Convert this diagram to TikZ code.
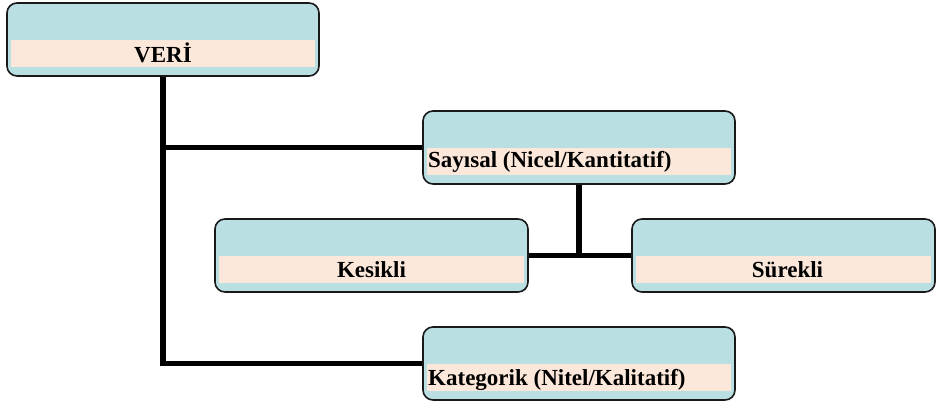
\documentclass[tikz,border=0pt]{standalone}
\usepackage{fontspec}
\setmainfont{Liberation Serif}
\definecolor{cyanbg}{HTML}{B9DFE3}
\definecolor{peachbg}{HTML}{FCE8DA}
\tikzset{
  box/.style={draw=black!90, line width=1.6pt, rounded corners=10pt, fill=cyanbg,
    minimum height=73pt, inner sep=0pt,
    path picture={\fill[peachbg, sharp corners] ([xshift=4pt,yshift=9pt]path picture bounding box.south west)
      rectangle ([xshift=-4pt,yshift=-37pt]path picture bounding box.north east);}},
  lbl/.style={font=\fontsize{23}{26}\selectfont\bfseries, inner sep=0pt},
  conn/.style={line width=5.5pt}
}
\begin{document}
\begin{tikzpicture}[x=1pt,y=-1pt]
\useasboundingbox (0,0) rectangle (936,403);
% boxes
\node[box, minimum width=312pt] (veri) at (163,39.5) {};
\node[box, minimum width=312pt] (say) at (579,147.5) {};
\node[box, minimum width=313pt] (kes) at (371.5,255.5) {};
\node[box, minimum width=303pt] (sur) at (783.5,255.5) {};
\node[box, minimum width=312pt] (kat) at (579,363.5) {};
% labels
\node[lbl, anchor=base] (veri-t) at (163,62.5) {VERİ};
\node[lbl, anchor=base west] (say-t) at (428,168) {Sayısal (Nicel/Kantitatif)};
\node[lbl, anchor=base] (kes-t) at (371.5,277) {Kesikli};
\node[lbl, anchor=base] (sur-t) at (787.5,277) {Sürekli};
\node[lbl, anchor=base west] (kat-t) at (428,385) {Kategorik (Nitel/Kalitatif)};
% connectors
\draw[conn] (veri.south) -- (veri.south |- kat.west) -- (kat.west);
\draw[conn] (veri.south |- say.west) -- (say.west);
\draw[conn] (say.south) -- (say.south |- kes.east);
\draw[conn] (kes.east) -- (sur.west);
\end{tikzpicture}
\end{document}
